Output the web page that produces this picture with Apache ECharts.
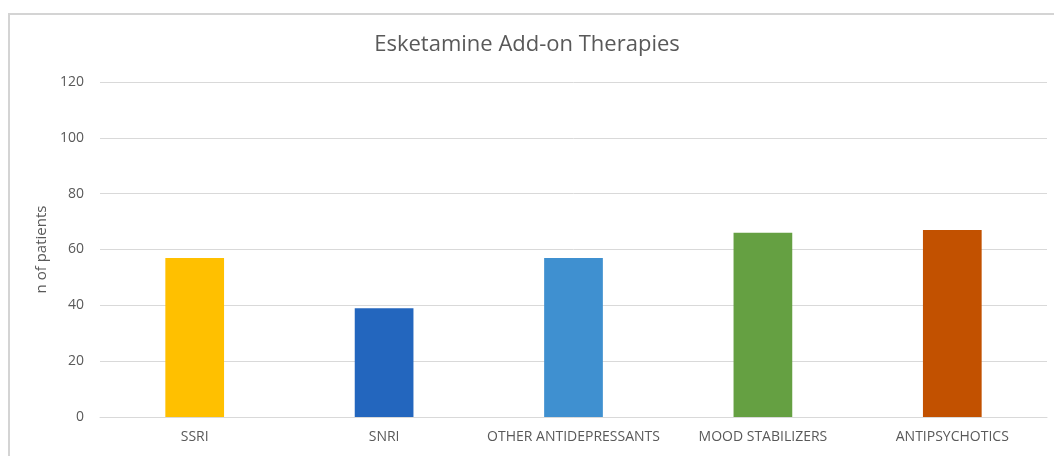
<!DOCTYPE html>
<html>
<head>
<meta charset="utf-8">
<script src="https://cdn.jsdelivr.net/npm/echarts@6/dist/echarts.min.js"></script>
<style>
  html, body { margin: 0; padding: 0; background: #fff; }
  #chart { width: 1054px; height: 456px; }
</style>
</head>
<body>
<div id="chart"></div>
<script>
// 資料
var categories = ['SSRI', 'SNRI', 'OTHER ANTIDEPRESSANTS', 'MOOD STABILIZERS', 'ANTIPSYCHOTICS'];
var patientCounts = [57, 39, 57, 66, 67];
var barColors = ['#FFC000', '#2366BE', '#3F90D0', '#65A042', '#C25100'];

var chart = echarts.init(document.getElementById('chart'));

var option = {
    backgroundColor: '#fff',
    animation: false,
    title: {
        text: 'Esketamine Add-on Therapies',
        left: 'center',
        top: 29,
        textStyle: { fontFamily: 'Open Sans', fontSize: 22, fontWeight: 'normal', color: '#595959' }
    },
    // 外框
    graphic: [{
        type: 'rect',
        shape: { x: 9, y: 14, width: 1060, height: 460 },
        style: { fill: 'none', stroke: '#d4d4d4', lineWidth: 2 },
        silent: true
    }],
    grid: { left: 100, right: 7, top: 82, bottom: 39 },
    xAxis: {
        type: 'category',
        data: categories,
        axisTick: { show: false },
        axisLine: { show: true, lineStyle: { color: '#d9d9d9', width: 1 } },
        axisLabel: { interval: 0, fontFamily: 'Open Sans', fontSize: 14, color: '#595959', margin: 13 }
    },
    yAxis: {
        type: 'value',
        min: 0,
        max: 120,
        interval: 20,
        name: 'n of patients',
        nameLocation: 'middle',
        nameGap: 51,
        nameTextStyle: { fontFamily: 'Open Sans', fontSize: 15, color: '#595959' },
        axisLine: { show: false },
        axisTick: { show: false },
        axisLabel: { fontFamily: 'Open Sans', fontSize: 14, color: '#595959', margin: 16 },
        splitLine: { lineStyle: { color: '#d9d9d9', width: 1 } }
    },
    series: [{
        type: 'bar',
        data: patientCounts.map(function(v, i) {
            return { value: v, itemStyle: { color: barColors[i] } };
        }),
        barWidth: '31%'
    }]
};

chart.setOption(option);
</script>
</body>
</html>
